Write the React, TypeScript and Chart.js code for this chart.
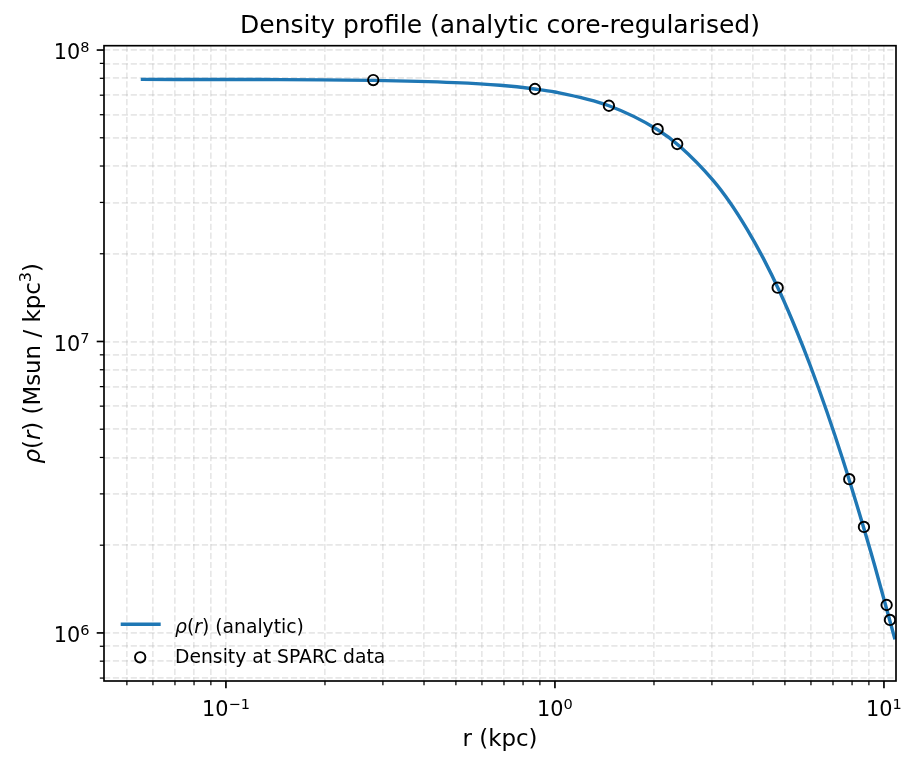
import React, { useEffect, useRef } from 'react';
import { Chart, registerables } from 'chart.js';

Chart.register(...registerables);

// Analytic curve (r in kpc, rho in Msun/kpc^3)
const curveR = [0.0551, 0.1268, 0.2804, 0.4966, 0.6806, 0.8695, 1.0, 1.459, 2.052, 2.399, 3.021, 3.404, 3.834, 4.288, 4.83, 5.441, 5.958, 6.708, 7.506, 8.278, 9.39, 10.8];
const curveRho = [7.93e7, 7.92e7, 7.87e7, 7.73e7, 7.57e7, 7.35e7, 7.18e7, 6.44e7, 5.33e7, 4.67e7, 3.58e7, 3.0e7, 2.43e7, 1.94e7, 1.475e7, 1.08e7, 8.32e6, 5.74e6, 3.92e6, 2.74e6, 1.69e6, 9.5e5];

// Density at SPARC data radii
const dataR = [0.2804, 0.8695, 1.459, 2.052, 2.353, 4.753, 7.844, 8.694, 10.19, 10.43];
const dataRho = [7.89e7, 7.35e7, 6.44e7, 5.35e7, 4.76e7, 1.53e7, 3.37e6, 2.31e6, 1.247e6, 1.108e6];

// Axis limits and tick layout
const xMin = 0.0426;
const xMax = 10.88;
const yMin = 6.84e5;
const yMax = 1.035e8;
const tickMantissas = [1, 2, 3, 4, 5, 6, 7, 8, 9];
const xDecades = [-2, -1, 0, 1];
const yDecades = [5, 6, 7, 8];

const titleText = 'Density profile (analytic core-regularised)';
const xLabelText = 'r (kpc)';
const legendLineLabel = ' (analytic)';
const legendPointLabel = 'Density at SPARC data';

const FONT = '"DejaVu Sans", sans-serif';
const BLUE = '#1f77b4';

function logTicks(decades: number[], min: number, max: number): number[] {
  const out: number[] = [];
  for (const d of decades) {
    for (const m of tickMantissas) {
      const v = m * Math.pow(10, d);
      if (v >= min && v <= max) out.push(v);
    }
  }
  return out;
}
const xTickValues = logTicks(xDecades, xMin, xMax);
const yTickValues = logTicks(yDecades, yMin, yMax);

function isMajor(v: number) {
  const l = Math.log10(v);
  return Math.abs(l - Math.round(l)) < 1e-9;
}

type Piece = { t: string; italic?: boolean; sup?: boolean };

function drawPieces(ctx: CanvasRenderingContext2D, pieces: Piece[], x: number, y: number, size: number, align: 'left' | 'center' | 'right') {
  const supSize = size * 0.7;
  const fontOf = (p: Piece) => `${p.italic ? 'italic ' : ''}${p.sup ? supSize : size}px ${FONT}`;
  let total = 0;
  const widths = pieces.map((p) => {
    ctx.font = fontOf(p);
    const w = ctx.measureText(p.t).width;
    total += w;
    return w;
  });
  let cx = align === 'left' ? x : align === 'center' ? x - total / 2 : x - total;
  ctx.textAlign = 'left';
  ctx.textBaseline = 'alphabetic';
  pieces.forEach((p, i) => {
    ctx.font = fontOf(p);
    ctx.fillText(p.t, cx, p.sup ? y - size * 0.36 : y);
    cx += widths[i];
  });
}

function powPieces(v: number): Piece[] {
  const e = Math.round(Math.log10(v));
  return [{ t: '10' }, { t: e < 0 ? '\u2212' + Math.abs(e) : String(e), sup: true }];
}

const mplPlugin = {
  id: 'mplDecor',
  afterDraw(chart: any) {
    const ctx: CanvasRenderingContext2D = chart.ctx;
    const ca = chart.chartArea;
    const xs = chart.scales.x;
    const ys = chart.scales.y;
    ctx.save();
    ctx.setLineDash([]);
    ctx.fillStyle = '#000';
    ctx.strokeStyle = '#000';

    // ticks
    xTickValues.forEach((v) => {
      const major = isMajor(v);
      const px = xs.getPixelForValue(v);
      ctx.lineWidth = major ? 1.67 : 1.25;
      ctx.beginPath();
      ctx.moveTo(px, ca.bottom);
      ctx.lineTo(px, ca.bottom + (major ? 7.3 : 4.2));
      ctx.stroke();
      if (major) drawPieces(ctx, powPieces(v), px, ca.bottom + 35, 20.8, 'center');
    });
    yTickValues.forEach((v) => {
      const major = isMajor(v);
      const py = ys.getPixelForValue(v);
      ctx.lineWidth = major ? 1.67 : 1.25;
      ctx.beginPath();
      ctx.moveTo(ca.left, py);
      ctx.lineTo(ca.left - (major ? 7.3 : 4.2), py);
      ctx.stroke();
      if (major) drawPieces(ctx, powPieces(v), ca.left - 14.6, py + 9.3, 20.8, 'right');
    });

    // frame
    ctx.lineWidth = 1.67;
    ctx.strokeRect(ca.left, ca.top, ca.right - ca.left, ca.bottom - ca.top);

    // title
    drawPieces(ctx, [{ t: titleText }], (ca.left + ca.right) / 2, 33.3, 25, 'center');
    // x label
    drawPieces(ctx, [{ t: xLabelText }], (ca.left + ca.right) / 2, 746, 22.9, 'center');
    // y label
    ctx.save();
    ctx.translate(39.5, (ca.top + ca.bottom) / 2);
    ctx.rotate(-Math.PI / 2);
    drawPieces(
      ctx,
      [{ t: '\u03c1', italic: true }, { t: '(' }, { t: 'r', italic: true }, { t: ')' }, { t: ' (Msun / kpc' }, { t: '3', sup: true }, { t: ')' }],
      0,
      0,
      22.9,
      'center'
    );
    ctx.restore();

    // legend
    const lx = ca.left + 16.7;
    ctx.strokeStyle = BLUE;
    ctx.lineWidth = 3.4;
    ctx.beginPath();
    ctx.moveTo(lx, 624.3);
    ctx.lineTo(lx + 40, 624.3);
    ctx.stroke();
    ctx.fillStyle = '#000';
    drawPieces(ctx, [{ t: '\u03c1', italic: true }, { t: '(' }, { t: 'r', italic: true }, { t: ')' }, { t: legendLineLabel }], lx + 54.3, 632.5, 18.75, 'left');
    ctx.strokeStyle = '#000';
    ctx.lineWidth = 1.9;
    ctx.beginPath();
    ctx.arc(lx + 19.5, 657.3, 5.2, 0, Math.PI * 2);
    ctx.stroke();
    drawPieces(ctx, [{ t: legendPointLabel }], lx + 54.3, 662.7, 18.75, 'left');

    ctx.restore();
  },
};

export default function App() {
  const ref = useRef<HTMLCanvasElement>(null);
  useEffect(() => {
    const gridCommon = {
      color: 'rgba(176,176,176,0.3)',
      lineWidth: 1.67,
      drawTicks: false,
    };
    const chart = new Chart(ref.current as HTMLCanvasElement, {
      type: 'scatter',
      data: {
        datasets: [
          {
            label: 'Density at SPARC data',
            data: dataR.map((r, i) => ({ x: r, y: dataRho[i] })),
            showLine: false,
            pointRadius: 5.2,
            pointHoverRadius: 5.2,
            pointBackgroundColor: 'rgba(0,0,0,0)',
            pointBorderColor: '#000',
            pointBorderWidth: 1.9,
          },
          {
            label: 'rho(r) (analytic)',
            data: curveR.map((r, i) => ({ x: r, y: curveRho[i] })),
            showLine: true,
            borderColor: BLUE,
            borderWidth: 3.4,
            pointRadius: 0,
            pointHoverRadius: 0,
            cubicInterpolationMode: 'monotone',
            fill: false,
          },
        ],
      },
      options: {
        animation: false,
        responsive: true,
        maintainAspectRatio: false,
        devicePixelRatio: 1,
        events: [],
        layout: { padding: { top: 45.7, right: 21, left: 0, bottom: 0 } },
        plugins: {
          legend: { display: false },
          title: { display: false },
          tooltip: { enabled: false },
        },
        scales: {
          x: {
            type: 'logarithmic',
            min: xMin,
            max: xMax,
            afterBuildTicks: (s: any) => {
              s.ticks = xTickValues.map((v) => ({ value: v }));
            },
            afterFit: (s: any) => {
              s.height = 86;
            },
            ticks: { display: false },
            grid: gridCommon,
            border: { display: false, dash: [6.2, 2.7] },
          },
          y: {
            type: 'logarithmic',
            min: yMin,
            max: yMax,
            afterBuildTicks: (s: any) => {
              s.ticks = yTickValues.map((v) => ({ value: v }));
            },
            afterFit: (s: any) => {
              s.width = 104;
            },
            ticks: { display: false },
            grid: gridCommon,
            border: { display: false, dash: [6.2, 2.7] },
          },
        },
      } as any,
      plugins: [mplPlugin],
    });
    return () => chart.destroy();
  }, []);
  return (
    <div style={{ position: 'absolute', left: 0, top: 0, width: 917, height: 767, background: '#fff' }}>
      <canvas ref={ref} />
    </div>
  );
}
